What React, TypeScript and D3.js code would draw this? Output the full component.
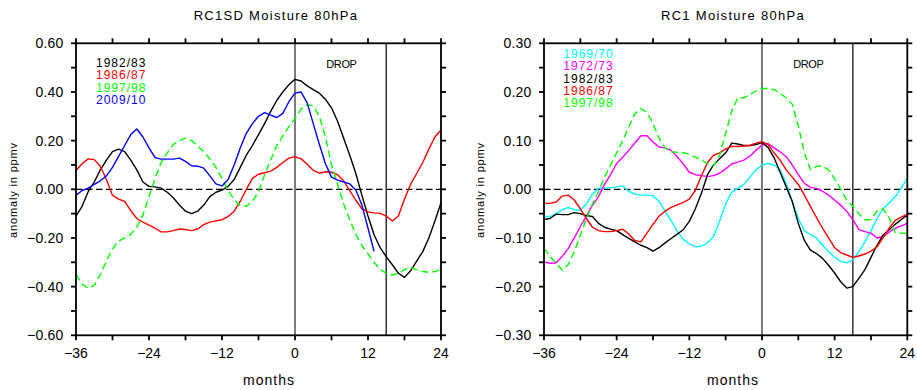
import React from "react";
import * as d3 from "d3";

// ---------- data ----------
const MONTHS: number[] = d3.range(-36, 25); // -36 .. 24
const MONTHS_2009: number[] = d3.range(-36, 14); // -36 .. 13

// Left panel: RC1SD Moisture 80hPa
const L_1982 = [
  -0.11, -0.07, -0.01, 0.03, 0.08, 0.12, 0.155, 0.165, 0.155, 0.12,
  0.08, 0.03, 0.012, 0.01, 0.005, -0.012, -0.035, -0.065, -0.09, -0.1,
  -0.09, -0.065, -0.03, -0.012, -0.003, 0.012, 0.04, 0.09, 0.14, 0.18,
  0.225, 0.27, 0.32, 0.365, 0.4, 0.43, 0.452, 0.445, 0.425, 0.41,
  0.395, 0.37, 0.335, 0.28, 0.21, 0.14, 0.065, -0.025, -0.11, -0.187,
  -0.24, -0.277, -0.31, -0.345, -0.362, -0.335, -0.295, -0.256, -0.2, -0.13, -0.055,
];
const L_1986 = [
  0.077, 0.105, 0.125, 0.122, 0.095, 0.04, -0.025, -0.04, -0.05, -0.088,
  -0.12, -0.135, -0.147, -0.16, -0.175, -0.175, -0.17, -0.163, -0.165, -0.17,
  -0.163, -0.145, -0.135, -0.13, -0.125, -0.112, -0.09, -0.05, 0.0, 0.045,
  0.062, 0.068, 0.075, 0.09, 0.11, 0.128, 0.134, 0.125, 0.103, 0.078,
  0.066, 0.072, 0.07, 0.06, 0.035, -0.005, -0.045, -0.08, -0.093, -0.097,
  -0.099, -0.11, -0.13, -0.11, -0.04, 0.02, 0.065, 0.11, 0.165, 0.215, 0.244,
];
const L_1997 = [
  -0.35, -0.39, -0.407, -0.395, -0.35, -0.295, -0.245, -0.213, -0.2, -0.185,
  -0.155, -0.105, -0.03, 0.045, 0.11, 0.15, 0.185, 0.2, 0.21, 0.2,
  0.178, 0.155, 0.125, 0.09, 0.045, -0.005, -0.042, -0.068, -0.07, -0.05,
  -0.01, 0.06, 0.12, 0.18, 0.22, 0.258, 0.29, 0.33, 0.347, 0.343,
  0.3, 0.216, 0.1, 0.02, -0.06, -0.125, -0.185, -0.232, -0.265, -0.3,
  -0.33, -0.345, -0.352, -0.345, -0.33, -0.322, -0.33, -0.338, -0.341, -0.338, -0.329,
];
const L_2009 = [
  -0.025, -0.005, 0.005, 0.02, 0.035, 0.055, 0.09, 0.135, 0.18, 0.225,
  0.248, 0.215, 0.17, 0.13, 0.124, 0.124, 0.124, 0.128, 0.115, 0.097,
  0.095, 0.087, 0.055, 0.022, 0.014, 0.04, 0.1, 0.17, 0.23, 0.27,
  0.3, 0.315, 0.305, 0.295, 0.312, 0.36, 0.395, 0.4, 0.355, 0.27,
  0.185, 0.105, 0.05, 0.038, 0.03, 0.022, -0.003, -0.065, -0.16, -0.255,
];

// Right panel: RC1 Moisture 80hPa
const R_1969 = [
  -0.056, -0.056, -0.05, -0.042, -0.037, -0.042, -0.043, -0.03, -0.01, 0.002,
  0.003, 0.003, 0.005, 0.007, -0.004, -0.01, -0.012, -0.012, -0.013, -0.025,
  -0.045, -0.065, -0.086, -0.103, -0.112, -0.118, -0.117, -0.11, -0.097, -0.065,
  -0.03, -0.006, 0.002, 0.01, 0.025, 0.04, 0.05, 0.053, 0.05, 0.04,
  0.012, -0.025, -0.06, -0.085, -0.093, -0.1, -0.115, -0.128, -0.14, -0.148,
  -0.151, -0.145, -0.128, -0.108, -0.085, -0.06, -0.04, -0.028, -0.015, 0.003, 0.022,
];
const R_1972 = [
  -0.149, -0.152, -0.151, -0.138, -0.122, -0.1, -0.077, -0.055, -0.033, -0.015,
  0.01, 0.03, 0.053, 0.066, 0.08, 0.095, 0.11, 0.11, 0.097, 0.087,
  0.085, 0.08, 0.067, 0.052, 0.035, 0.03, 0.028, 0.026, 0.028, 0.033,
  0.042, 0.052, 0.056, 0.06, 0.068, 0.08, 0.091, 0.094, 0.085, 0.077,
  0.067, 0.05, 0.03, 0.012, 0.004, 0.002, -0.004, -0.012, -0.022, -0.033,
  -0.045, -0.062, -0.083, -0.087, -0.09, -0.1, -0.097, -0.088, -0.08, -0.075, -0.07,
];
const R_1982 = [
  -0.062, -0.06, -0.051, -0.052, -0.052, -0.048, -0.05, -0.054, -0.056, -0.07,
  -0.078, -0.082, -0.085, -0.093, -0.101, -0.108, -0.115, -0.12, -0.127, -0.12,
  -0.11, -0.101, -0.092, -0.083, -0.066, -0.04, -0.008, 0.03, 0.05, 0.063,
  0.075, 0.095, 0.093, 0.09, 0.09, 0.092, 0.096, 0.086, 0.065, 0.035,
  0.005, -0.025, -0.07, -0.105, -0.125, -0.132, -0.142, -0.156, -0.172, -0.19,
  -0.203, -0.2, -0.183, -0.165, -0.14, -0.115, -0.094, -0.083, -0.072, -0.062, -0.053,
];
const R_1986 = [
  -0.029, -0.029, -0.026, -0.014, -0.012, -0.022, -0.04, -0.06, -0.078, -0.085,
  -0.087, -0.087, -0.085, -0.082, -0.092, -0.105, -0.108, -0.09, -0.072, -0.055,
  -0.045, -0.037, -0.032, -0.027, -0.02, -0.002, 0.028, 0.055, 0.07, 0.075,
  0.083, 0.088, 0.088, 0.089, 0.09, 0.095, 0.098, 0.092, 0.075, 0.06,
  0.04, 0.025, 0.01, -0.012, -0.035, -0.058, -0.08, -0.1, -0.12, -0.13,
  -0.135, -0.14, -0.137, -0.133, -0.127, -0.118, -0.1, -0.08, -0.064, -0.057, -0.051,
];
const R_1997 = [
  -0.121, -0.138, -0.152, -0.166, -0.155, -0.128, -0.095, -0.06, -0.03, -0.005,
  0.025, 0.05, 0.075, 0.1, 0.128, 0.155, 0.166, 0.158, 0.135, 0.105,
  0.085, 0.077, 0.076, 0.075, 0.072, 0.066, 0.06, 0.053, 0.048, 0.07,
  0.115, 0.16, 0.188, 0.188, 0.195, 0.202, 0.207, 0.207, 0.205, 0.197,
  0.188, 0.175, 0.13, 0.075, 0.04, 0.047, 0.048, 0.04, 0.022, 0.0,
  -0.022, -0.035, -0.05, -0.063, -0.062, -0.045, -0.04, -0.058, -0.09, -0.09, -0.09,
];

const LEFT_LABELS = ["1982/83", "1986/87", "1997/98", "2009/10"];
const RIGHT_LABELS = ["1969/70", "1972/73", "1982/83", "1986/87", "1997/98"];
const X_TICK_LABELS = [-36, -24, -12, 0, 12, 24];
const X_MINOR = d3.range(-36, 25, 6);

const FONT = "'Liberation Sans', Arial, Helvetica, sans-serif";

type Series = { label: string; color: string; dashed?: boolean; xs: number[]; ys: number[] };

interface PanelProps {
  x0: number;
  x1: number;
  yMax: number;
  yMajor: number[];
  yMinor: number[];
  title: string;
  titleX: number;
  monthsX: number;
  ylabX: number;
  legendX: number;
  legendY0: number;
  legendStep: number;
  series: Series[];
}

const TOP = 43.3;
const BOTTOM = 335.3;
const TICK = 5;

function Panel(p: PanelProps) {
  const x = d3.scaleLinear().domain([-36, 24]).range([p.x0, p.x1]);
  const y = d3.scaleLinear().domain([-p.yMax, p.yMax]).range([BOTTOM, TOP]);
  const fmtY = d3.format(".2f");
  const fmtX = d3.format("d");
  return (
    <g>
      {/* title */}
      <text x={p.titleX} y={19.5} textAnchor="middle" fontFamily={FONT} fontSize={13} letterSpacing={1.3} fill="#000">
        {p.title}
      </text>
      {/* zero dashed line */}
      <line x1={p.x0} x2={p.x1} y1={y(0)} y2={y(0)} stroke="#000" strokeWidth={1.2} strokeDasharray="6.5,3.5" />
      {/* vertical reference lines */}
      <line x1={x(0)} x2={x(0)} y1={TOP} y2={BOTTOM} stroke="#111" strokeWidth={1.1} />
      <line x1={x(15)} x2={x(15)} y1={TOP} y2={BOTTOM} stroke="#333" strokeWidth={1.5} />
      <text x={x(5.15)} y={67.5} fontFamily={FONT} fontSize={11} letterSpacing={-0.4} fill="#000">
        DROP
      </text>
      {/* series */}
      {p.series.map((s) => {
        const line = d3
          .line<number>()
          .x((_, i) => x(s.xs[i]))
          .y((d) => y(d));
        return (
          <path
            key={s.label}
            d={line(s.ys) || ""}
            fill="none"
            stroke={s.color}
            strokeWidth={1.4}
            strokeDasharray={s.dashed ? "7,4" : undefined}
            strokeLinejoin="round"
          />
        );
      })}
      {/* legend */}
      {p.series.map((s, i) => (
        <text
          key={"lg" + s.label}
          x={p.legendX}
          y={p.legendY0 + i * p.legendStep}
          fontFamily={FONT}
          fontSize={12}
          letterSpacing={1.0}
          fill={s.color}
        >
          {s.label}
        </text>
      ))}
      {/* frame */}
      <rect x={p.x0} y={TOP} width={p.x1 - p.x0} height={BOTTOM - TOP} fill="none" stroke="#000" strokeWidth={1.8} />
      {/* x ticks */}
      {X_MINOR.map((m) => (
        <g key={"xt" + m}>
          <line x1={x(m)} x2={x(m)} y1={BOTTOM} y2={BOTTOM + TICK} stroke="#000" strokeWidth={1.8} />
          <line x1={x(m)} x2={x(m)} y1={TOP} y2={TOP - TICK} stroke="#000" strokeWidth={1.8} />
        </g>
      ))}
      {X_TICK_LABELS.map((m) => (
        <text key={"xl" + m} x={x(m)} y={358} textAnchor="middle" fontFamily={FONT} fontSize={14} fill="#000">
          {fmtX(m)}
        </text>
      ))}
      {/* y ticks */}
      {p.yMinor.map((v) => (
        <g key={"yt" + v}>
          <line x1={p.x0} x2={p.x0 - TICK} y1={y(v)} y2={y(v)} stroke="#000" strokeWidth={1.8} />
          <line x1={p.x1} x2={p.x1 + TICK} y1={y(v)} y2={y(v)} stroke="#000" strokeWidth={1.8} />
        </g>
      ))}
      {p.yMajor.map((v) => (
        <text
          key={"yl" + v}
          x={p.x0 - 12.5}
          y={y(v) + 5}
          textAnchor="end"
          fontFamily={FONT}
          fontSize={14}
          letterSpacing={0.2}
          fill="#000"
        >
          {fmtY(Math.abs(v) < 1e-9 ? 0 : v)}
        </text>
      ))}
      {/* axis titles */}
      <text x={p.monthsX} y={385} textAnchor="middle" fontFamily={FONT} fontSize={14} letterSpacing={1} fill="#000">
        months
      </text>
      <text
        transform={`translate(${p.ylabX},190) rotate(-90)`}
        textAnchor="middle"
        fontFamily={FONT}
        fontSize={11}
        letterSpacing={0.85}
        fill="#000"
      >
        anomaly in ppmv
      </text>
    </g>
  );
}

export default function App() {
  const leftSeries: Series[] = [
    { label: LEFT_LABELS[0], color: "#000000", xs: MONTHS, ys: L_1982 },
    { label: LEFT_LABELS[1], color: "#ff0000", xs: MONTHS, ys: L_1986 },
    { label: LEFT_LABELS[2], color: "#00ff00", dashed: true, xs: MONTHS, ys: L_1997 },
    { label: LEFT_LABELS[3], color: "#0000ff", xs: MONTHS_2009, ys: L_2009 },
  ];
  const rightSeries: Series[] = [
    { label: RIGHT_LABELS[0], color: "#00ffff", xs: MONTHS, ys: R_1969 },
    { label: RIGHT_LABELS[1], color: "#ff00ff", xs: MONTHS, ys: R_1972 },
    { label: RIGHT_LABELS[2], color: "#000000", xs: MONTHS, ys: R_1982 },
    { label: RIGHT_LABELS[3], color: "#ff0000", xs: MONTHS, ys: R_1986 },
    { label: RIGHT_LABELS[4], color: "#00ff00", dashed: true, xs: MONTHS, ys: R_1997 },
  ];
  const leftMajor = d3.range(-3, 4).map((k) => k * 0.2);
  const leftMinor = d3.range(-6, 7).map((k) => k * 0.1);
  const rightMajor = d3.range(-3, 4).map((k) => k * 0.1);
  const rightMinor = d3.range(-6, 7).map((k) => k * 0.05);
  return (
    <svg
      width={917}
      height={390}
      viewBox="0 0 917 390"
      style={{ position: "absolute", left: 0, top: 0, background: "#fff" }}
    >
      <rect x={0} y={0} width={917} height={390} fill="#fff" />
      <Panel
        x0={76}
        x1={441}
        yMax={0.6}
        yMajor={leftMajor}
        yMinor={leftMinor}
        title="RC1SD Moisture 80hPa"
        titleX={276}
        monthsX={269}
        ylabX={16.5}
        legendX={96}
        legendY0={66.7}
        legendStep={12.4}
        series={leftSeries}
      />
      <Panel
        x0={544}
        x1={907.3}
        yMax={0.3}
        yMajor={rightMajor}
        yMinor={rightMinor}
        title="RC1 Moisture 80hPa"
        titleX={733}
        monthsX={733}
        ylabX={484}
        legendX={563.3}
        legendY0={58.3}
        legendStep={12.1}
        series={rightSeries}
      />
    </svg>
  );
}
